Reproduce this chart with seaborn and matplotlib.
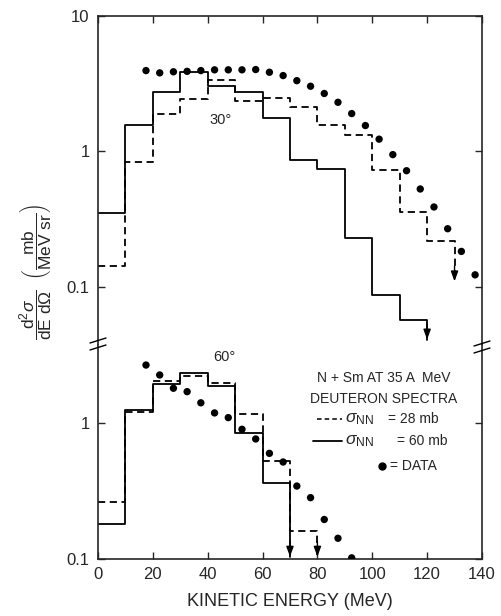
import matplotlib

matplotlib.use("Agg")
import matplotlib.pyplot as plt
import pandas as pd
import seaborn as sns
from matplotlib.ticker import NullLocator


# bin edges of the calculated spectra (MeV)
ENERGY_EDGES = [0, 10, 20, 30, 40, 50, 60, 70, 80, 90, 100, 110, 120, 130]

# 30 degrees
SIGMA60_30 = [0.35, 1.57, 2.74, 3.86, 3.02, 2.72, 1.76, 0.86, 0.745, 0.23, 0.0875, 0.057]
SIGMA28_30 = [0.142, 0.84, 1.9, 2.44, 3.34, 2.34, 2.48, 2.11, 1.56, 1.33, 0.724, 0.357, 0.22]
ARROW_60MB_30 = 0.041
ARROW_28MB_30 = 0.11
DATA_E_30 = [17.5, 22.5, 27.5, 32.5, 37.5, 42.5, 47.5, 52.5, 57.5, 62.5, 67.5, 72.5, 77.5,
             82.5, 87.5, 92.5, 97.5, 102.5, 107.5, 112.5, 117.5, 122.5, 127.5, 132.5, 137.5]
DATA_30 = [3.94, 3.79, 3.86, 3.89, 3.94, 3.99, 3.99, 3.99, 4.01, 3.83, 3.62, 3.32, 3.02,
           2.67, 2.30, 1.90, 1.55, 1.23, 0.946, 0.72, 0.528, 0.389, 0.269, 0.183, 0.123]

# 60 degrees
SIGMA60_60 = [0.18, 1.24, 1.92, 2.33, 1.86, 0.836, 0.359]
SIGMA28_60 = [0.26, 1.2, 2.03, 2.2, 1.97, 1.16, 0.526, 0.16]
ARROW_60MB_60 = 0.104
ARROW_28MB_60 = 0.104
DATA_E_60 = [17.5, 22.5, 27.5, 32.5, 37.5, 42.5, 47.5, 52.5, 57.5, 62.5, 67.5, 72.5, 77.5,
             82.5, 87.5, 92.5]
DATA_60 = [2.65, 2.24, 1.79, 1.69, 1.40, 1.18, 1.09, 0.895, 0.76, 0.596, 0.515, 0.343, 0.282,
           0.195, 0.142, 0.102]

X_TICKS = [0, 20, 40, 60, 80, 100, 120, 140]
DASHED = (0, (4, 2.5))


def step_frame(values, arrow_end):
    edges = ENERGY_EDGES[:len(values) + 1]
    x = edges + [edges[-1]]
    y = list(values) + [values[-1], arrow_end]
    return pd.DataFrame({"energy": x, "xsec": y})


def draw_hist(ax, values, arrow_end, style):
    frame = step_frame(values, arrow_end)
    sns.lineplot(data=frame, x="energy", y="xsec", ax=ax, sort=False, estimator=None,
                 drawstyle="steps-post", color="black", linewidth=1.3, linestyle=style)
    end_x = frame["energy"].iloc[-1]
    ax.annotate("", xy=(end_x, arrow_end), xytext=(end_x, arrow_end * 1.3),
                arrowprops=dict(arrowstyle="-|>,head_length=0.6,head_width=0.22",
                                color="black", lw=1.0, shrinkA=0, shrinkB=0))


def style_axis(ax, yticks, ylabels):
    ax.set_yscale("log")
    ax.set_xlim(0, 140)
    ax.set_yticks(yticks)
    ax.set_yticklabels(ylabels)
    ax.yaxis.set_minor_locator(NullLocator())
    ax.set_xticks(X_TICKS)
    ax.set_xlabel("")
    ax.set_ylabel("")
    ax.tick_params(axis="both", direction="in", length=5, width=1.0, labelsize=12, pad=6)
    ax.tick_params(axis="y", right=True)
    for spine in ax.spines.values():
        spine.set_linewidth(1.2)


def main() -> None:
    sns.set_style("ticks")
    plt.rcParams["font.family"] = ["Liberation Sans", "DejaVu Sans"]
    plt.rcParams["mathtext.fontset"] = "custom"
    plt.rcParams["mathtext.rm"] = "Liberation Sans"
    plt.rcParams["mathtext.it"] = "Liberation Sans:italic"
    plt.rcParams["mathtext.bf"] = "Liberation Sans:bold"

    fig = plt.figure(figsize=(5.01, 6.16), dpi=100)
    ax_top = fig.add_axes([0.1956, 0.44, 0.7664, 0.5345])
    ax_bot = fig.add_axes([0.1956, 0.0925, 0.7664, 0.3475])

    # 30 degree panel
    draw_hist(ax_top, SIGMA60_30, ARROW_60MB_30, "-")
    draw_hist(ax_top, SIGMA28_30, ARROW_28MB_30, DASHED)
    sns.scatterplot(x=DATA_E_30, y=DATA_30, ax=ax_top, color="black", s=28,
                    edgecolor="none", zorder=3)
    style_axis(ax_top, [0.1, 1, 10], ["0.1", "1", "10"])
    ax_top.set_ylim(0.0374, 10)
    ax_top.spines["bottom"].set_visible(False)
    ax_top.tick_params(axis="x", bottom=False, top=True, labelbottom=False)
    ax_top.text(44.8, 1.71, "30°", ha="center", va="center", fontsize=10.5)

    # 60 degree panel
    draw_hist(ax_bot, SIGMA60_60, ARROW_60MB_60, "-")
    draw_hist(ax_bot, SIGMA28_60, ARROW_28MB_60, DASHED)
    sns.scatterplot(x=DATA_E_60, y=DATA_60, ax=ax_bot, color="black", s=28,
                    edgecolor="none", zorder=3)
    style_axis(ax_bot, [0.1, 1], ["0.1", "1"])
    ax_bot.set_ylim(0.1, 3.72)
    ax_bot.spines["top"].set_visible(False)
    ax_bot.tick_params(axis="x", top=False)
    ax_bot.text(46, 3.03, "60°", ha="center", va="center", fontsize=10.5)
    ax_bot.set_xlabel("KINETIC ENERGY (MeV)", fontsize=13, labelpad=8)

    # key
    tr = ax_bot.transAxes
    ax_bot.text(0.745, 0.846, "N + Sm AT 35 A  MeV", transform=tr, ha="center",
                va="center", fontsize=10)
    ax_bot.text(0.745, 0.748, "DEUTERON SPECTRA", transform=tr, ha="center",
                va="center", fontsize=10)
    ax_bot.plot([0.570, 0.635], [0.654, 0.654], transform=tr, color="black",
                lw=1.1, linestyle=(0, (3, 2)))
    ax_bot.text(0.643, 0.654, r"$\sigma_{\mathrm{NN}}$", transform=tr,
                ha="left", va="center", fontsize=12.5)
    ax_bot.text(0.755, 0.654, "= 28 mb", transform=tr, ha="left", va="center", fontsize=10)
    ax_bot.plot([0.560, 0.635], [0.551, 0.551], transform=tr, color="black", lw=1.3)
    ax_bot.text(0.643, 0.551, r"$\sigma_{\mathrm{NN}}$", transform=tr,
                ha="left", va="center", fontsize=12.5)
    ax_bot.text(0.779, 0.551, "= 60 mb", transform=tr, ha="left", va="center", fontsize=10)
    ax_bot.plot([0.74], [0.435], transform=tr, marker="o", color="black", markersize=5,
                linestyle="none")
    ax_bot.text(0.76, 0.435, "= DATA", transform=tr, ha="left", va="center", fontsize=10)

    # axis break marks
    for xc, yc in [(98, 344), (482, 347)]:
        for dy in (-3.5, 3.5):
            x0, x1 = (xc - 8) / 501, (xc + 8) / 501
            y0 = 1 - (yc + dy + 2.5) / 616
            y1 = 1 - (yc + dy - 2.5) / 616
            fig.add_artist(plt.Line2D([x0, x1], [y0, y1], color="black", lw=1.0))

    fig.text(0.072, 0.558,
             r"$\dfrac{\mathrm{d}^2\sigma}{\mathrm{dE\ d}\Omega}\ \ "
             r"\left(\dfrac{\mathrm{mb}}{\mathrm{MeV\ sr}}\right)$",
             rotation=90, ha="center", va="center", fontsize=12.5)

    fig.savefig("out.png", dpi=100)
    plt.close(fig)


if __name__ == "__main__":
    main()
